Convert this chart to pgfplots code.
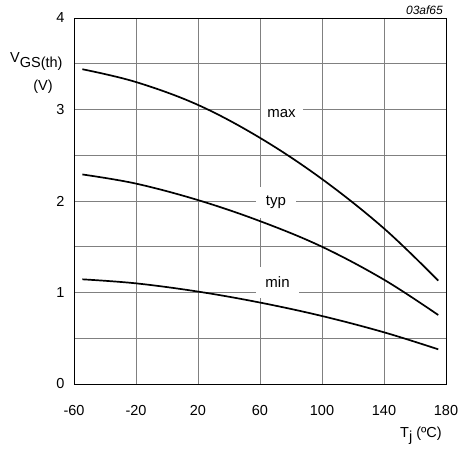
\documentclass[border=0pt]{standalone}
\usepackage{fontspec}
\setmainfont{Liberation Sans}
\usepackage{pgfplots}
\pgfplotsset{compat=1.18}

\begin{document}
\begin{tikzpicture}
  \useasboundingbox (-74bp,-66bp) rectangle (386bp,384bp);
  \begin{axis}[
    at={(0,0)}, anchor=south west,
    scale only axis,
    width=372bp, height=366bp,
    xmin=-60, xmax=180,
    ymin=0, ymax=4,
    xtick={-60,-20,...,180},
    ytick={0,1,2,3,4},
    minor ytick={0.5,1.5,2.5,3.5},
    grid=both,
    major grid style={black!50, line width=0.9bp},
    minor grid style={black!50, line width=0.9bp},
    axis line style={black, line width=0.9bp},
    tick style={draw=none},
    font=\fontsize{14.5bp}{17bp}\selectfont,
    /pgf/number format/assume math mode=true,
    xticklabel style={yshift=-18bp},
    yticklabel style={xshift=-6bp},
    clip=false,
  ]
    \addplot[black, line width=1.7bp, smooth, tension=0.6] coordinates {
      (-54.6,3.44) (-20,3.30) (20,3.05) (60,2.69) (100,2.24) (140,1.70) (175,1.13)
    };
    \addplot[black, line width=1.7bp, smooth, tension=0.6] coordinates {
      (-54.6,2.29) (-20,2.19) (20,2.01) (60,1.78) (100,1.50) (140,1.14) (175,0.754)
    };
    \addplot[black, line width=1.7bp, smooth, tension=0.6] coordinates {
      (-54.6,1.144) (-20,1.10) (20,1.01) (60,0.89) (100,0.743) (140,0.565) (175,0.379)
    };
    \node[fill=white, font=\fontsize{15bp}{18bp}\selectfont, minimum width=42bp, minimum height=32bp, inner sep=0pt] at (axis cs:73.9,2.956) {max};
    \node[fill=white, font=\fontsize{15bp}{18bp}\selectfont, minimum width=40bp, minimum height=31bp, inner sep=0pt] at (axis cs:70.3,1.984) {typ};
    \node[fill=white, font=\fontsize{15bp}{18bp}\selectfont, minimum width=43bp, minimum height=31bp, inner sep=0pt] at (axis cs:71.3,1.109) {min};
  \end{axis}
  \node[font=\fontsize{14.5bp}{17bp}\selectfont, anchor=base west, inner sep=0pt] at (-64bp,316bp) {\raisebox{5bp}{V}GS(th)};
  \node[font=\fontsize{14.5bp}{17bp}\selectfont] at (-31bp,297bp) {(V)};
  \node[font=\fontsize{14.5bp}{17bp}\selectfont, anchor=base west, inner sep=0pt] at (326bp,-53bp) {T\raisebox{-4bp}{j} (ºC)};
  \node[font=\fontsize{12bp}{14bp}\selectfont\itshape, anchor=base east, inner sep=0pt] at (369bp,369bp) {03af65};
\end{tikzpicture}
\end{document}
